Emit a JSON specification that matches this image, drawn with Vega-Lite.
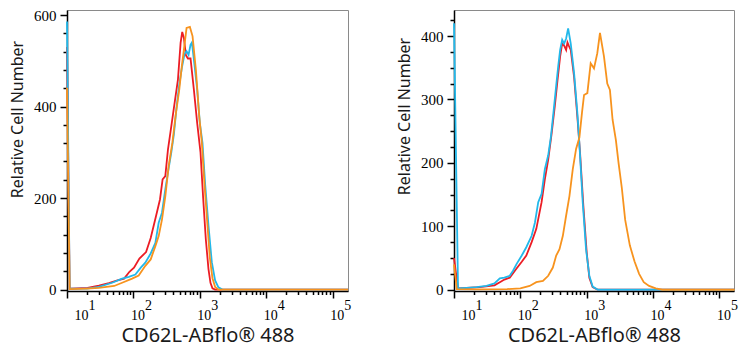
{
  "$schema": "https://vega.github.io/schema/vega-lite/v6.json",
  "padding": {"left": 9, "top": 7, "right": 5, "bottom": 0},
  "spacing": 43,
  "datasets": {
    "left": [
      {"s": "red", "x": 10, "v": 530}, {"s": "red", "x": 10.96, "v": 2}, {"s": "red", "x": 20.4, "v": 4}, {"s": "red", "x": 30.2, "v": 9}, {"s": "red", "x": 42.7, "v": 14}, {"s": "red", "x": 57.5, "v": 20}, {"s": "red", "x": 72.4, "v": 24}, {"s": "red", "x": 87.1, "v": 39}, {"s": "red", "x": 102, "v": 48}, {"s": "red", "x": 123, "v": 68}, {"s": "red", "x": 155, "v": 82}, {"s": "red", "x": 182, "v": 113}, {"s": "red", "x": 219, "v": 161}, {"s": "red", "x": 251, "v": 197}, {"s": "red", "x": 275, "v": 241}, {"s": "red", "x": 302, "v": 248}, {"s": "red", "x": 331, "v": 306}, {"s": "red", "x": 372, "v": 357}, {"s": "red", "x": 417, "v": 408}, {"s": "red", "x": 468, "v": 459}, {"s": "red", "x": 513, "v": 539}, {"s": "red", "x": 543, "v": 563}, {"s": "red", "x": 575, "v": 550}, {"s": "red", "x": 617, "v": 512}, {"s": "red", "x": 661, "v": 505}, {"s": "red", "x": 724, "v": 505}, {"s": "red", "x": 813, "v": 437}, {"s": "red", "x": 912, "v": 364}, {"s": "red", "x": 1023, "v": 300}, {"s": "red", "x": 1122, "v": 200}, {"s": "red", "x": 1230, "v": 110}, {"s": "red", "x": 1349, "v": 45}, {"s": "red", "x": 1445, "v": 15}, {"s": "red", "x": 1549, "v": 3}, {"s": "red", "x": 1698, "v": 0}, {"s": "red", "x": 170000, "v": 0},
      {"s": "cyan", "x": 10, "v": 586}, {"s": "cyan", "x": 10.96, "v": 2}, {"s": "cyan", "x": 20.0, "v": 2}, {"s": "cyan", "x": 30.2, "v": 6}, {"s": "cyan", "x": 47.9, "v": 15}, {"s": "cyan", "x": 67.6, "v": 24}, {"s": "cyan", "x": 85.1, "v": 28}, {"s": "cyan", "x": 107, "v": 33}, {"s": "cyan", "x": 129, "v": 48}, {"s": "cyan", "x": 151, "v": 59}, {"s": "cyan", "x": 182, "v": 79}, {"s": "cyan", "x": 214, "v": 102}, {"s": "cyan", "x": 240, "v": 146}, {"s": "cyan", "x": 269, "v": 168}, {"s": "cyan", "x": 302, "v": 219}, {"s": "cyan", "x": 339, "v": 265}, {"s": "cyan", "x": 372, "v": 300}, {"s": "cyan", "x": 407, "v": 340}, {"s": "cyan", "x": 447, "v": 400}, {"s": "cyan", "x": 490, "v": 448}, {"s": "cyan", "x": 537, "v": 485}, {"s": "cyan", "x": 589, "v": 515}, {"s": "cyan", "x": 631, "v": 521}, {"s": "cyan", "x": 676, "v": 513}, {"s": "cyan", "x": 724, "v": 535}, {"s": "cyan", "x": 759, "v": 540}, {"s": "cyan", "x": 832, "v": 490}, {"s": "cyan", "x": 912, "v": 437}, {"s": "cyan", "x": 1000, "v": 364}, {"s": "cyan", "x": 1096, "v": 321}, {"s": "cyan", "x": 1202, "v": 230}, {"s": "cyan", "x": 1349, "v": 140}, {"s": "cyan", "x": 1514, "v": 60}, {"s": "cyan", "x": 1698, "v": 20}, {"s": "cyan", "x": 1905, "v": 5}, {"s": "cyan", "x": 2188, "v": 0}, {"s": "cyan", "x": 170000, "v": 0},
      {"s": "orange", "x": 10, "v": 441}, {"s": "orange", "x": 10.96, "v": 1}, {"s": "orange", "x": 20.0, "v": 2}, {"s": "orange", "x": 30.2, "v": 4}, {"s": "orange", "x": 51.3, "v": 8}, {"s": "orange", "x": 67.6, "v": 15}, {"s": "orange", "x": 95.5, "v": 24}, {"s": "orange", "x": 120, "v": 31}, {"s": "orange", "x": 151, "v": 52}, {"s": "orange", "x": 182, "v": 66}, {"s": "orange", "x": 214, "v": 95}, {"s": "orange", "x": 240, "v": 117}, {"s": "orange", "x": 269, "v": 153}, {"s": "orange", "x": 302, "v": 204}, {"s": "orange", "x": 339, "v": 270}, {"s": "orange", "x": 386, "v": 321}, {"s": "orange", "x": 437, "v": 386}, {"s": "orange", "x": 490, "v": 437}, {"s": "orange", "x": 537, "v": 490}, {"s": "orange", "x": 575, "v": 524}, {"s": "orange", "x": 631, "v": 572}, {"s": "orange", "x": 708, "v": 574}, {"s": "orange", "x": 776, "v": 554}, {"s": "orange", "x": 871, "v": 481}, {"s": "orange", "x": 977, "v": 380}, {"s": "orange", "x": 1072, "v": 321}, {"s": "orange", "x": 1175, "v": 230}, {"s": "orange", "x": 1288, "v": 150}, {"s": "orange", "x": 1413, "v": 70}, {"s": "orange", "x": 1549, "v": 25}, {"s": "orange", "x": 1698, "v": 6}, {"s": "orange", "x": 1905, "v": 0}, {"s": "orange", "x": 170000, "v": 0}
    ],
    "right": [
      {"s": "red", "x": 10, "v": 50}, {"s": "red", "x": 11.5, "v": 2}, {"s": "red", "x": 24.5, "v": 4}, {"s": "red", "x": 40.7, "v": 7}, {"s": "red", "x": 51.3, "v": 13}, {"s": "red", "x": 57.5, "v": 16}, {"s": "red", "x": 69.2, "v": 19}, {"s": "red", "x": 87.1, "v": 33}, {"s": "red", "x": 105, "v": 44}, {"s": "red", "x": 123, "v": 54}, {"s": "red", "x": 148, "v": 75}, {"s": "red", "x": 174, "v": 96}, {"s": "red", "x": 209, "v": 138}, {"s": "red", "x": 234, "v": 174}, {"s": "red", "x": 263, "v": 205}, {"s": "red", "x": 295, "v": 245}, {"s": "red", "x": 331, "v": 290}, {"s": "red", "x": 363, "v": 330}, {"s": "red", "x": 398, "v": 368}, {"s": "red", "x": 427, "v": 388}, {"s": "red", "x": 457, "v": 385}, {"s": "red", "x": 490, "v": 378}, {"s": "red", "x": 513, "v": 390}, {"s": "red", "x": 537, "v": 385}, {"s": "red", "x": 575, "v": 378}, {"s": "red", "x": 646, "v": 335}, {"s": "red", "x": 724, "v": 272}, {"s": "red", "x": 794, "v": 216}, {"s": "red", "x": 891, "v": 132}, {"s": "red", "x": 1000, "v": 59}, {"s": "red", "x": 1096, "v": 19}, {"s": "red", "x": 1230, "v": 4}, {"s": "red", "x": 1479, "v": 0}, {"s": "red", "x": 170000, "v": 0},
      {"s": "cyan", "x": 10, "v": 420}, {"s": "cyan", "x": 11.5, "v": 2}, {"s": "cyan", "x": 15.5, "v": 3}, {"s": "cyan", "x": 21.9, "v": 4}, {"s": "cyan", "x": 30.9, "v": 6}, {"s": "cyan", "x": 40.7, "v": 10}, {"s": "cyan", "x": 49.0, "v": 18}, {"s": "cyan", "x": 57.5, "v": 19}, {"s": "cyan", "x": 69.2, "v": 22}, {"s": "cyan", "x": 77.6, "v": 30}, {"s": "cyan", "x": 87.1, "v": 40}, {"s": "cyan", "x": 105, "v": 54}, {"s": "cyan", "x": 123, "v": 67}, {"s": "cyan", "x": 148, "v": 85}, {"s": "cyan", "x": 166, "v": 106}, {"s": "cyan", "x": 186, "v": 138}, {"s": "cyan", "x": 209, "v": 151}, {"s": "cyan", "x": 234, "v": 190}, {"s": "cyan", "x": 263, "v": 212}, {"s": "cyan", "x": 288, "v": 240}, {"s": "cyan", "x": 316, "v": 280}, {"s": "cyan", "x": 347, "v": 322}, {"s": "cyan", "x": 372, "v": 352}, {"s": "cyan", "x": 398, "v": 378}, {"s": "cyan", "x": 427, "v": 394}, {"s": "cyan", "x": 457, "v": 388}, {"s": "cyan", "x": 490, "v": 396}, {"s": "cyan", "x": 525, "v": 412}, {"s": "cyan", "x": 575, "v": 388}, {"s": "cyan", "x": 646, "v": 341}, {"s": "cyan", "x": 724, "v": 278}, {"s": "cyan", "x": 776, "v": 230}, {"s": "cyan", "x": 871, "v": 138}, {"s": "cyan", "x": 977, "v": 64}, {"s": "cyan", "x": 1096, "v": 22}, {"s": "cyan", "x": 1230, "v": 5}, {"s": "cyan", "x": 1479, "v": 0}, {"s": "cyan", "x": 170000, "v": 0},
      {"s": "orange", "x": 10, "v": 40}, {"s": "orange", "x": 11.0, "v": 1}, {"s": "orange", "x": 25.1, "v": 0.5}, {"s": "orange", "x": 63.1, "v": 1}, {"s": "orange", "x": 100, "v": 2}, {"s": "orange", "x": 138, "v": 6}, {"s": "orange", "x": 174, "v": 12}, {"s": "orange", "x": 219, "v": 14}, {"s": "orange", "x": 263, "v": 22}, {"s": "orange", "x": 309, "v": 35}, {"s": "orange", "x": 347, "v": 54}, {"s": "orange", "x": 389, "v": 64}, {"s": "orange", "x": 437, "v": 85}, {"s": "orange", "x": 490, "v": 117}, {"s": "orange", "x": 550, "v": 148}, {"s": "orange", "x": 617, "v": 190}, {"s": "orange", "x": 692, "v": 222}, {"s": "orange", "x": 776, "v": 240}, {"s": "orange", "x": 851, "v": 280}, {"s": "orange", "x": 912, "v": 307}, {"s": "orange", "x": 1023, "v": 310}, {"s": "orange", "x": 1148, "v": 357}, {"s": "orange", "x": 1288, "v": 349}, {"s": "orange", "x": 1445, "v": 373}, {"s": "orange", "x": 1585, "v": 405}, {"s": "orange", "x": 1820, "v": 368}, {"s": "orange", "x": 2042, "v": 325}, {"s": "orange", "x": 2239, "v": 315}, {"s": "orange", "x": 2455, "v": 268}, {"s": "orange", "x": 2754, "v": 236}, {"s": "orange", "x": 3020, "v": 200}, {"s": "orange", "x": 3388, "v": 160}, {"s": "orange", "x": 3802, "v": 110}, {"s": "orange", "x": 4467, "v": 70}, {"s": "orange", "x": 5248, "v": 45}, {"s": "orange", "x": 6166, "v": 25}, {"s": "orange", "x": 7244, "v": 12}, {"s": "orange", "x": 8710, "v": 6}, {"s": "orange", "x": 10965, "v": 2}, {"s": "orange", "x": 13804, "v": 0}, {"s": "orange", "x": 170000, "v": 0}
    ]
  },
  "config": {
    "view": {"stroke": "#8a8a8a", "strokeWidth": 1},
    "axis": {
      "grid": false,
      "domainColor": "#000000",
      "domainWidth": 1.5,
      "tickColor": "#000000",
      "tickWidth": 1.5,
      "labelFont": "Liberation Serif",
      "labelColor": "#000000",
      "titleFont": "Noto Sans",
      "titleFontWeight": "normal",
      "titleColor": "#1a1a1a"
    }
  },
  "hconcat": [
    {
      "width": 281,
      "height": 281,
      "data": {"name": "left"},
      "encoding": {
        "x": {
          "field": "x", "type": "quantitative",
          "scale": {"type": "log", "domain": [10, 170000], "nice": false},
          "axis": {
            "title": "CD62L-ABflo® 488",
            "titleFontSize": 20,
            "titlePadding": 3,
            "values": [10, 20, 30, 40, 50, 60, 70, 80, 90, 100, 200, 300, 400, 500, 600, 700, 800, 900, 1000, 2000, 3000, 4000, 5000, 6000, 7000, 8000, 9000, 10000, 20000, 30000, 40000, 50000, 60000, 70000, 80000, 90000, 100000],
            "labelExpr": "abs(log(datum.value)/LN10 - round(log(datum.value)/LN10)) < 0.001 ? ['\u200B\u2007\u2007' + round(log(datum.value)/LN10), '10'] : ''",
            "labelAlign": "left",
            "labelOffset": {"condition": {"test": "datum.value < 15", "value": 7}, "value": -3},
            "labelLineHeight": 10,
            "labelFontSize": 14,
            "labelPadding": 0,
            "labelOverlap": false,
            "labelBound": false,
            "labelFlush": false,
            "tickSize": {"condition": {"test": "abs(log(datum.value)/LN10 - round(log(datum.value)/LN10)) < 0.001", "value": 7}, "value": 3.5}
          }
        },
        "y": {
          "field": "v", "type": "quantitative",
          "scale": {"domain": [-3, 611], "nice": false, "zero": false},
          "axis": {
            "title": "Relative Cell Number",
            "titleFontSize": 16,
            "titlePadding": 8,
            "titleY": 109,
            "values": [0, 40, 80, 120, 160, 200, 240, 280, 320, 360, 400, 440, 480, 520, 560, 600],
            "labelExpr": "datum.value % 200 == 0 ? datum.label : ''",
            "labelFontSize": 15,
            "labelPadding": 4,
            "tickSize": {"condition": {"test": "datum.value % 200 == 0", "value": 7}, "value": 4}
          }
        }
      },
      "layer": [
        {"transform": [{"filter": "datum.s == 'red'"}], "mark": {"type": "line", "color": "#ec1c24", "strokeWidth": 1.8}},
        {"transform": [{"filter": "datum.s == 'cyan'"}], "mark": {"type": "line", "color": "#22b8ea", "strokeWidth": 1.8}},
        {"transform": [{"filter": "datum.s == 'orange'"}], "mark": {"type": "line", "color": "#f7931e", "strokeWidth": 1.8}}
      ]
    },
    {
      "width": 280,
      "height": 281,
      "data": {"name": "right"},
      "encoding": {
        "x": {
          "field": "x", "type": "quantitative",
          "scale": {"type": "log", "domain": [10, 166000], "nice": false},
          "axis": {
            "title": "CD62L-ABflo® 488",
            "titleFontSize": 20,
            "titlePadding": 3,
            "values": [10, 20, 30, 40, 50, 60, 70, 80, 90, 100, 200, 300, 400, 500, 600, 700, 800, 900, 1000, 2000, 3000, 4000, 5000, 6000, 7000, 8000, 9000, 10000, 20000, 30000, 40000, 50000, 60000, 70000, 80000, 90000, 100000],
            "labelExpr": "abs(log(datum.value)/LN10 - round(log(datum.value)/LN10)) < 0.001 ? ['\u200B\u2007\u2007' + round(log(datum.value)/LN10), '10'] : ''",
            "labelAlign": "left",
            "labelOffset": {"condition": {"test": "datum.value < 15", "value": 7}, "value": -3},
            "labelLineHeight": 10,
            "labelFontSize": 14,
            "labelPadding": 0,
            "labelOverlap": false,
            "labelBound": false,
            "labelFlush": false,
            "tickSize": {"condition": {"test": "abs(log(datum.value)/LN10 - round(log(datum.value)/LN10)) < 0.001", "value": 7}, "value": 3.5}
          }
        },
        "y": {
          "field": "v", "type": "quantitative",
          "scale": {"domain": [-2, 441], "nice": false, "zero": false},
          "axis": {
            "title": "Relative Cell Number",
            "titleFontSize": 16,
            "titlePadding": 8,
            "titleY": 106,
            "values": [0, 25, 50, 75, 100, 125, 150, 175, 200, 225, 250, 275, 300, 325, 350, 375, 400, 425],
            "labelExpr": "datum.value % 100 == 0 ? datum.label : ''",
            "labelFontSize": 15,
            "labelPadding": 4,
            "tickSize": {"condition": {"test": "datum.value % 100 == 0", "value": 7}, "value": 4}
          }
        }
      },
      "layer": [
        {"transform": [{"filter": "datum.s == 'red'"}], "mark": {"type": "line", "color": "#ec1c24", "strokeWidth": 1.8}},
        {"transform": [{"filter": "datum.s == 'cyan'"}], "mark": {"type": "line", "color": "#22b8ea", "strokeWidth": 1.8}},
        {"transform": [{"filter": "datum.s == 'orange'"}], "mark": {"type": "line", "color": "#f7931e", "strokeWidth": 1.8}}
      ]
    }
  ]
}
